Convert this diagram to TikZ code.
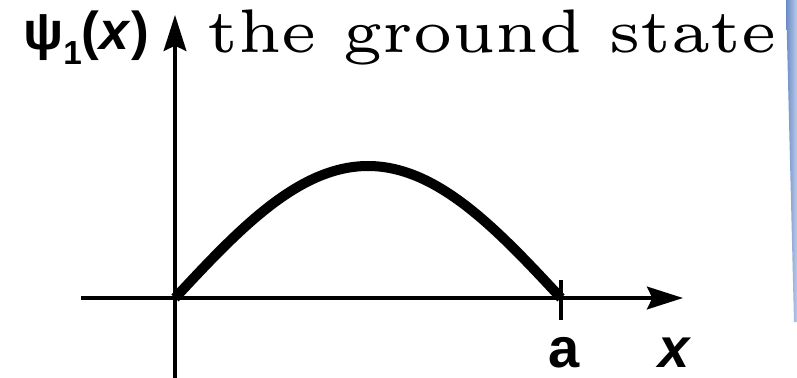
\documentclass[tikz,border=0pt]{standalone}
\usepackage{fontspec}
\usepackage{graphicx}
\usetikzlibrary{arrows.meta,positioning,calc}
\newfontfamily\labelfont{Liberation Sans}
\definecolor{stripblue}{RGB}{105,140,200}

\begin{document}
\begin{tikzpicture}[
  x=0.75pt, y=-0.75pt,
  >={Stealth[length=27pt, width=17pt, inset=4pt]},
  axis/.style={->, line width=2.6pt},
  wave/.style={line width=7.5pt},
  tickmark/.style={line width=2.6pt},
  axislabel/.style={font=\labelfont\bfseries\fontsize{42}{48}\selectfont,
    inner sep=0pt, anchor=base},
  title/.style={inner sep=0pt, anchor=base west}
]
\useasboundingbox (0,0) rectangle (797,378);
\shade[left color=stripblue, right color=stripblue!45]
  (786,0) -- (797,0) -- (797,322) -- (794,322) -- cycle;
\coordinate (origin) at (175,298);
\coordinate (xstart) at (81,298);
\coordinate (xend) at (683,298);
\coordinate (ystart) at (175,378);
\coordinate (yend) at (175,15);
\coordinate (peak) at (368,166);
\coordinate (wall) at (561,298);
\node[axislabel, anchor=base west,
  font=\labelfont\bfseries\fontsize{40}{46}\selectfont]
  (psilabel) at (23,50)
  {ψ\raisebox{-11pt}{\fontsize{25}{25}\selectfont 1}(\textit{x})};
\node[title] (title) at (207,53)
  {\resizebox{427pt}{32pt}{\fontsize{6}{7}\selectfont the ground state}};
\node[axislabel] (alabel) at (564,367) {a};
\node[axislabel] (xlabel) at (675,367) {\textit{x}};
\draw[axis] (xstart) -- (xend);
\draw[axis] (ystart) -- (yend);
\draw[tickmark] ([yshift=13.5pt]wall) -- ([yshift=-16.5pt]wall);
\draw[wave] (origin) sin (peak) cos (wall);
\end{tikzpicture}
\end{document}
